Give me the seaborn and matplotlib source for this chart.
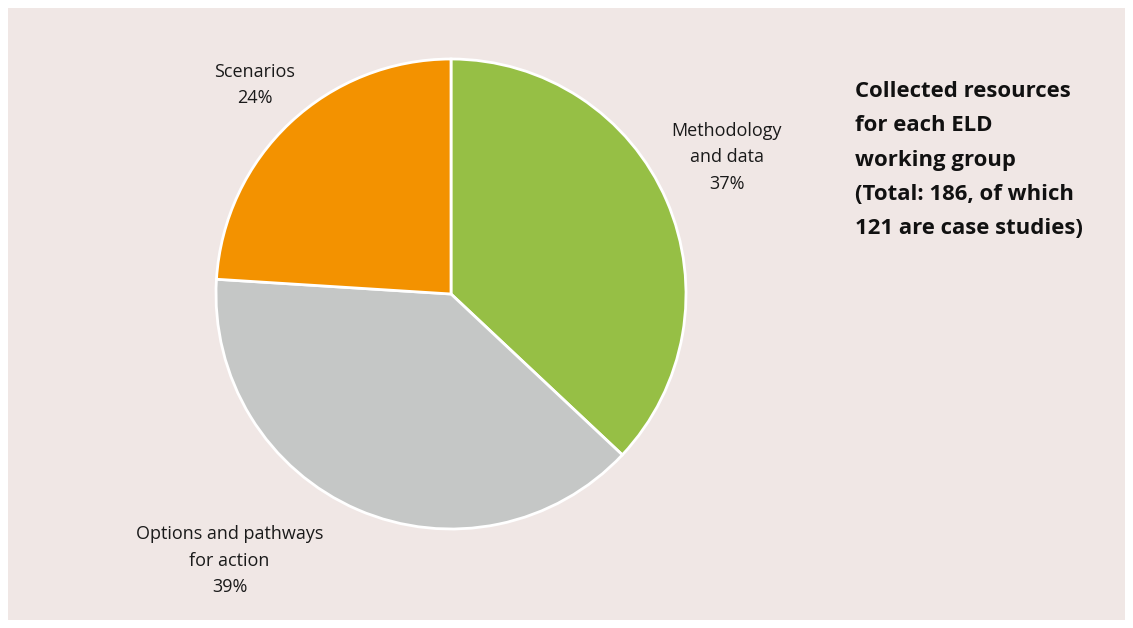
import numpy as np
import matplotlib
matplotlib.use('Agg')
import matplotlib.pyplot as plt
import seaborn as sns
from matplotlib.patches import Rectangle

# data
groups = ['Methodology\nand data', 'Options and pathways\nfor action', 'Scenarios']
shares = [37, 39, 24]
colors = ['#96bf45', '#c5c7c6', '#f39200']
title_lines = ['Collected resources', 'for each ELD', 'working group',
               '(Total: 186, of which', '121 are case studies)']

sns.set_theme(style='white')
plt.rcParams['font.family'] = ['Open Sans', 'DejaVu Sans']

fig = plt.figure(figsize=(11.33, 6.28), dpi=100)
fig.patch.set_facecolor('white')
bg = Rectangle((8 / 1133, 8 / 628), 1117 / 1133, 612 / 628, transform=fig.transFigure,
               facecolor='#f0e7e5', edgecolor='none', zorder=-10)
fig.add_artist(bg)

# pie centred at (451, 294) px, radius 235 px
r = 235
ax = fig.add_axes([(451 - r) / 1133, (628 - 294 - r) / 628, 2 * r / 1133, 2 * r / 628])
ax.set_zorder(5)
ax.set_facecolor('none')
labels = ['{}\n{}%'.format(g, s) for g, s in zip(groups, shares)]
wedges, texts = ax.pie(shares, colors=colors, startangle=90, counterclock=False,
                       labels=labels, labeldistance=1.3,
                       wedgeprops=dict(edgecolor='white', linewidth=2),
                       textprops=dict(fontsize=13, color='#1a1a1a', ha='center', va='center',
                                      linespacing=1.6))
ax.set_aspect('equal')
ax.set_xlim(-1, 1)
ax.set_ylim(-1, 1)

# shift labels to where the reference puts them (angle offset, distance)
adjust = [(3, 1.31), (-16.3, 1.475), (0, 1.22)]
for w, t, (da, dist) in zip(wedges, texts, adjust):
    ang = np.deg2rad((w.theta1 + w.theta2) / 2 + da)
    t.set_position((dist * np.cos(ang), dist * np.sin(ang)))
    t.set_ha('center')

for i, line in enumerate(title_lines):
    fig.text(855 / 1133, 1 - (97 + 34.3 * i) / 628, line, fontsize=15.9, fontweight='bold',
             color='#111111', ha='left', va='baseline')

fig.savefig('out.png', dpi=100, facecolor=fig.get_facecolor())
